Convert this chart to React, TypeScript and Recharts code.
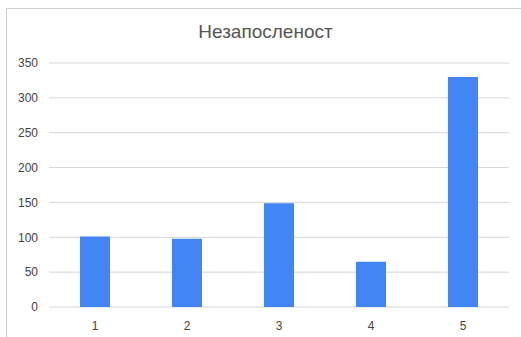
import { BarChart, Bar, XAxis, YAxis, CartesianGrid } from 'recharts';

const categories = ['1', '2', '3', '4', '5'];
const unemployment = [101, 98, 149, 65, 330];
const yTicks = [0, 50, 100, 150, 200, 250, 300, 350];

const chartData = categories.map((c, i) => ({ name: c, value: unemployment[i] }));

export default function App() {
    return (
        <div style={{ position: 'absolute', left: 0, top: 0, width: 521, height: 337, background: '#fff', overflow: 'hidden', fontFamily: 'Arial, "Liberation Sans", sans-serif' }}>
            {/* frame of the chart card, cut off at the right and bottom */}
            <div style={{ position: 'absolute', left: 6, top: 8, width: 530, height: 340, border: '1px solid #d0d0d0' }} />
            <div style={{ position: 'absolute', left: 0, top: 21, width: 531, textAlign: 'center', fontSize: 19, color: '#555' }}>
                Незапосленост
            </div>
            <div style={{ position: 'absolute', left: 0, top: 0 }}>
                <BarChart width={521} height={337} data={chartData} margin={{ top: 63, right: 12, left: 0, bottom: 0 }} barCategoryGap={31}>
                    <CartesianGrid vertical={false} stroke="#d6d6d6" />
                    <XAxis
                        dataKey="name"
                        axisLine={false}
                        tickLine={false}
                        tick={{ fill: '#444', fontSize: 12 }}
                        height={30}
                        tickMargin={8}
                    />
                    <YAxis
                        width={49}
                        domain={[0, 350]}
                        ticks={yTicks}
                        axisLine={false}
                        tickLine={false}
                        tick={{ fill: '#444', fontSize: 12 }}
                        tickMargin={5}
                    />
                    <Bar dataKey="value" fill="#4285f4" isAnimationActive={false} />
                </BarChart>
            </div>
        </div>
    );
}
